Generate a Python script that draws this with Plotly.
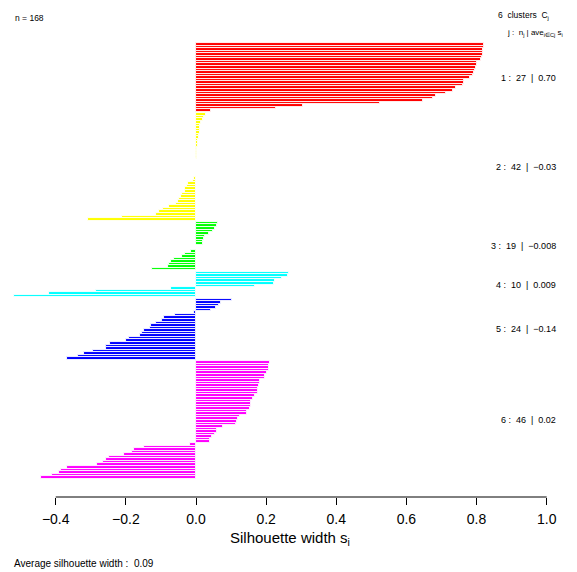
import plotly.graph_objects as go

# Silhouette widths per cluster, ordered top to bottom as drawn
s1 = [0.822, 0.820, 0.819, 0.818, 0.817, 0.816, 0.814, 0.802, 0.801, 0.798,
      0.796, 0.793, 0.790, 0.780, 0.765, 0.763, 0.761, 0.741, 0.734, 0.713,
      0.685, 0.675, 0.648, 0.524, 0.304, 0.229, 0.043]
s2 = [0.028, 0.024, 0.020, 0.014, 0.012, 0.011, 0.011, 0.010, 0.009, 0.008,
      0.007, 0.006, 0.005, 0.004, 0.003, 0.003, 0.002, 0.002, 0.001, 0.001,
      0.0005, 0.0004, 0.0003, 0.0002, -0.0005,
      -0.005, -0.009, -0.024, -0.027, -0.031, -0.031, -0.039, -0.042, -0.048,
      -0.052, -0.057, -0.076, -0.095, -0.106, -0.115, -0.212, -0.307]
s3 = [0.062, 0.060, 0.055, 0.048, 0.037, 0.026, 0.022, 0.020, 0.019,
      0.001, -0.001,
      -0.014, -0.031, -0.040, -0.063, -0.072, -0.078, -0.080, -0.125]
s4 = [0.266, 0.261, 0.244, 0.226, 0.221, 0.167, -0.072, -0.285, -0.418, -0.519]
s5 = [0.103, 0.072, 0.066, 0.057, 0.044, -0.005, -0.059, -0.092, -0.096,
      -0.113, -0.129, -0.132, -0.148, -0.153, -0.160, -0.192, -0.201, -0.245,
      -0.258, -0.258, -0.295, -0.320, -0.337, -0.368]
s6 = [0.210, 0.209, 0.209, 0.208, 0.202, 0.198, 0.197, 0.183, 0.182, 0.180,
      0.178, 0.177, 0.176, 0.169, 0.163, 0.158, 0.157, 0.156, 0.155, 0.145,
      0.144, 0.126, 0.119, 0.117, 0.115, 0.077, 0.060, 0.059, 0.053, 0.046,
      0.040, 0.040,
      -0.017, -0.148, -0.178, -0.183, -0.206, -0.249, -0.258, -0.266, -0.282,
      -0.368, -0.386, -0.391, -0.410, -0.441]

clusters = [s1, s2, s3, s4, s5, s6]
cluster_ids = [1, 2, 3, 4, 5, 6]
cluster_sizes = [27, 42, 19, 10, 24, 46]
cluster_avg_labels = ["0.70", "\u22120.03", "\u22120.008", "0.009", "\u22120.14", "0.02"]
colors = ["#FF0000", "#FFFF00", "#00FF00", "#00FFFF", "#0000FF", "#FF00FF"]
n_total = 168
avg_width_label = "0.09"
tick_vals = [-0.4, -0.2, 0.0, 0.2, 0.4, 0.6, 0.8, 1.0]
tick_text = ["\u22120.4", "\u22120.2", "0.0", "0.2", "0.4", "0.6", "0.8", "1.0"]

FONT = "Liberation Sans, Arial, sans-serif"
NB = "\u00a0"

# page body has an 8px default margin: work in window pixels, subtract it
OFF = 8
W, H = 577 - OFF, 572 - OFF
ML, MR = 0, 17
axis_px = 497           # window pixel of the x axis line
top_px = 26             # window pixel of the plot region top
MT = top_px - OFF
MB = H - (axis_px - OFF)
plot_w = W - ML - MR
plot_h = H - MT - MB

fig = go.Figure()

pos = 0.0
centers = []
for k, vals in enumerate(clusters):
    ys = []
    for v in vals:
        ys.append(pos)
        pos += 1
    centers.append((ys[0] + ys[-1]) / 2)
    pos += 0.5
    fig.add_trace(go.Bar(
        x=vals, y=ys, orientation="h", width=1.0,
        marker=dict(color=colors[k], line=dict(color="white", width=0.9)),
        showlegend=False, hoverinfo="x",
    ))

y_first_top = -0.5
y_last_bottom = pos - 0.5  # bottom edge of last bar (last center + 0.5)
# window pixels: top bar edge at 43, bottom bar edge at 480
px_top, px_bot = 43, 480
scale = (px_bot - px_top) / (y_last_bottom - y_first_top)
y_min = y_first_top - (px_top - top_px) / scale
y_max = y_last_bottom + (axis_px - px_bot) / scale

# x mapping in window pixels: 0 -> 196, 1 -> 546.7
x0_px, x1_px = 196.0 - OFF, 546.7 - OFF
xs = x1_px - x0_px
x_lo = (ML - x0_px) / xs
x_hi = (ML + plot_w - x0_px) / xs


def px(p):
    """window pixel x -> paper x"""
    return (p - OFF - ML) / plot_w


def py(p):
    """window pixel y -> paper y"""
    return (axis_px - p) / plot_h


annotations = []
for k in range(len(clusters)):
    txt = (f"{cluster_ids[k]} :{NB}{NB}{cluster_sizes[k]}{NB}{NB}|"
           f"{NB}{NB}{cluster_avg_labels[k]}")
    annotations.append(dict(
        x=px(558), xref="paper", y=centers[k], yref="y",
        text=txt, showarrow=False, xanchor="right", yanchor="middle",
        font=dict(family=FONT, size=9, color="black"),
    ))

annotations += [
    dict(x=px(13), xref="paper", y=py(18), yref="paper",
         text=f"n = {n_total}", showarrow=False, xanchor="left", yanchor="middle",
         font=dict(family=FONT, size=8.5, color="black")),
    dict(x=px(496), xref="paper", y=py(15), yref="paper",
         text=f"{len(clusters)}{NB}{NB}clusters{NB}{NB}C<sub>j</sub>", showarrow=False,
         xanchor="left", yanchor="middle",
         font=dict(family=FONT, size=8.5, color="black")),
    dict(x=px(505), xref="paper", y=py(33), yref="paper",
         text=f"j :{NB}{NB}n<sub>j</sub> | ave<sub>i\u2208Cj</sub>{NB}s<sub>i</sub>",
         showarrow=False, xanchor="left", yanchor="middle",
         font=dict(family=FONT, size=8, color="black")),
    dict(x=px(290), xref="paper", y=py(538), yref="paper",
         text="Silhouette width s<sub>i</sub>", showarrow=False,
         xanchor="center", yanchor="middle",
         font=dict(family=FONT, size=15, color="black")),
    dict(x=px(12), xref="paper", y=py(563), yref="paper",
         text=f"Average silhouette width :{NB}{NB}{avg_width_label}", showarrow=False,
         xanchor="left", yanchor="middle",
         font=dict(family=FONT, size=10, color="black")),
]

fig.update_layout(
    width=W, height=H,
    margin=dict(l=ML, r=MR, t=MT, b=MB, pad=0),
    paper_bgcolor="white", plot_bgcolor="white",
    bargap=0, barmode="overlay",
    xaxis=dict(range=[x_lo, x_hi], tickvals=tick_vals, ticktext=tick_text,
               showgrid=False, zeroline=False, showline=False,
               ticks="outside", ticklen=7, tickwidth=1, tickcolor="black",
               ticklabelstandoff=2,
               tickfont=dict(family=FONT, size=14, color="black")),
    yaxis=dict(range=[y_max, y_min], visible=False, showgrid=False, zeroline=False),
    annotations=annotations,
    shapes=[dict(type="line", xref="x", yref="paper",
                 x0=tick_vals[0], x1=tick_vals[-1], y0=0, y1=0,
                 line=dict(color="black", width=1))],
    font=dict(family=FONT),
)

fig.write_html("out.html")
